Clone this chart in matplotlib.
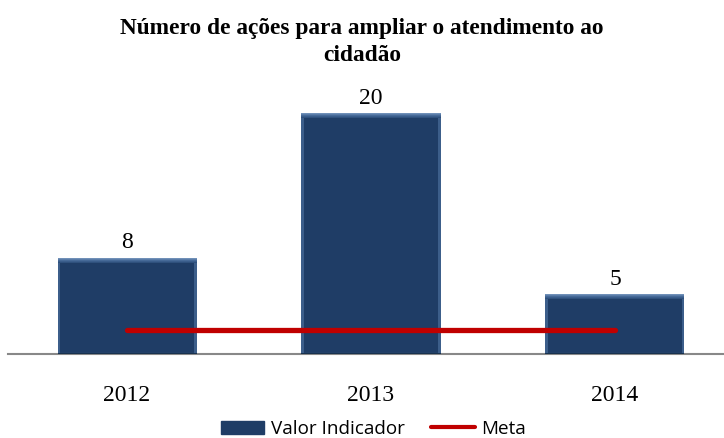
import matplotlib
matplotlib.use("Agg")
import matplotlib.pyplot as plt
from matplotlib.patches import Rectangle
from matplotlib.lines import Line2D

# dados do indicador
anos = ["2012", "2013", "2014"]
valor_indicador = [8, 20, 5]
meta = [2, 2, 2]

cor_barra = "#1F3D66"
cor_meta = "#C00000"

W, H = 724, 438
fig = plt.figure(figsize=(W / 100, H / 100), dpi=100)

# eixo posicionado em pixels
ax_left, ax_right = 8, 724
ax_bottom, ax_top = 354, 100
ax = fig.add_axes([ax_left / W, 1 - ax_bottom / H,
                   (ax_right - ax_left) / W, (ax_bottom - ax_top) / H])

px_por_unidade = 12.05
ax.set_ylim(0, (ax_bottom - ax_top) / px_por_unidade)
ax.set_xlim(-0.488, 2.447)

x = list(range(len(anos)))
largura = 0.57
bars = ax.bar(x, valor_indicador, width=largura, color=cor_barra, zorder=2)

# efeito de chanfro nas barras
topo = ["#7090B8", "#5A7CA8", "#466A98", "#3A5D8B", "#2F517D"]
for b in bars:
    x0, w, h = b.get_x(), b.get_width(), b.get_height()
    ax.add_patch(Rectangle((x0, 0), 0.012, h, color="#3C5E8A", zorder=3, lw=0))
    ax.add_patch(Rectangle((x0 + w - 0.012, 0), 0.012, h, color="#3C5E8A", zorder=3, lw=0))
    ax.add_patch(Rectangle((x0, 0), w, 0.1, color="#18324F", zorder=3, lw=0))
    for i, c in enumerate(topo):
        ax.add_patch(Rectangle((x0, h - 0.09 * (i + 1)), w, 0.09, color=c, zorder=3, lw=0))

# rótulos de valor
for xi, v in zip(x, valor_indicador):
    ax.text(xi, v + 0.35, str(v), ha="center", va="bottom",
            family="Liberation Serif", fontsize=17)

ax.plot(x, meta, color=cor_meta, lw=3.8, solid_capstyle="round", zorder=4)

ax.set_xticks(x)
ax.set_xticklabels(anos, family="Liberation Serif", fontsize=17)
ax.tick_params(axis="x", length=0, pad=22)
ax.set_yticks([])
for s in ["top", "right", "left"]:
    ax.spines[s].set_visible(False)
ax.spines["bottom"].set_color("#888888")
ax.spines["bottom"].set_linewidth(1.5)

fig.text(0.5, 1 - 42 / H, "Número de ações para ampliar o atendimento ao\ncidadão",
         ha="center", va="center", family="Liberation Serif", fontweight="bold",
         fontsize=16.8, linespacing=1.32)

handles = [Rectangle((0, 0), 1, 1, color=cor_barra),
           Line2D([0], [0], color=cor_meta, lw=3, solid_capstyle="round")]
fig.legend(handles, ["Valor Indicador", "Meta"], loc="center",
           bbox_to_anchor=(373.5 / W, 1 - 429 / H), ncol=2, frameon=False,
           prop={"family": "Open Sans", "size": 13.6}, handlelength=2.3,
           handletextpad=0.35, columnspacing=1.4)

fig.savefig("out.png", dpi=100)
